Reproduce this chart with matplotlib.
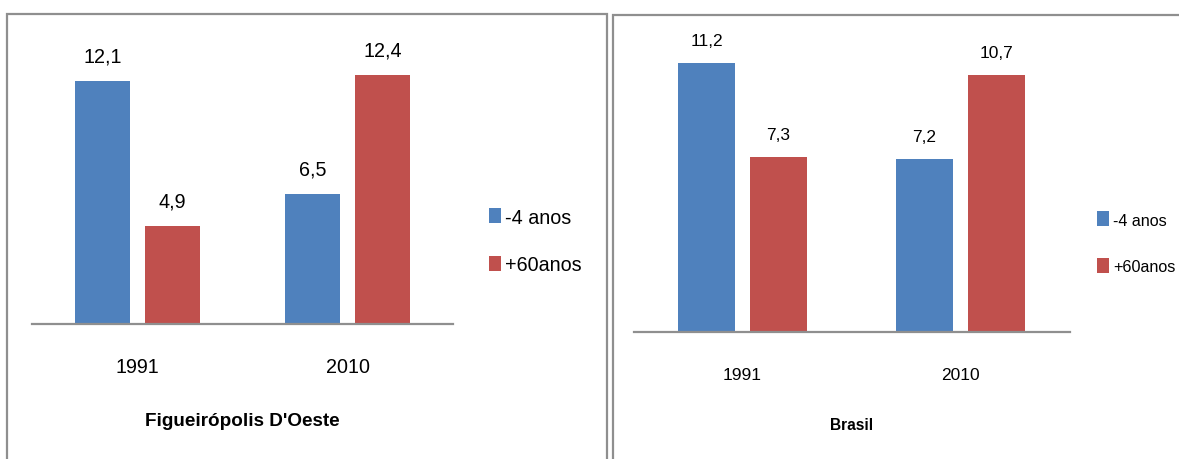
import matplotlib
matplotlib.use('Agg')
import matplotlib.pyplot as plt
from matplotlib import transforms
from matplotlib.lines import Line2D
from matplotlib.patches import Rectangle

# data
years = ['1991', '2010']
series = ['-4 anos', '+60anos']
colors = ['#4F81BD', '#C0504D']
figueiropolis_menos4 = [12.1, 6.5]
figueiropolis_mais60 = [4.9, 12.4]
brasil_menos4 = [11.2, 7.2]
brasil_mais60 = [7.3, 10.7]

W, H = 1179, 459
fig = plt.figure(figsize=(W / 100, H / 100), dpi=100)
fig.patch.set_facecolor('white')

GRAY = '#8f8f8f'
FAMILY = ['Liberation Sans', 'DejaVu Sans']


def fx(x):
    return x / W


def fy(y):
    # pixel row (from top) -> figure fraction
    return 1 - y / H


def pbox(x0, y0, x1, y1):
    return [fx(x0), fy(y1), (x1 - x0) / W, (y1 - y0) / H]


panels = [
    dict(title="Figueirópolis D'Oeste", vals=[figueiropolis_menos4, figueiropolis_mais60],
         box=(32, 43, 453, 324), ymax=14, off=0.166, width=0.261,
         fs=14.2, leg_fs=14.2, tfs=13.6, lab_off=13.2, cat_y=373, title_y=426,
         leg_x=489, leg_y=[(208, 224), (256, 271)]),
    dict(title='Brasil', vals=[brasil_menos4, brasil_mais60],
         box=(633.5, 44, 1069.5, 332), ymax=12, off=0.165, width=0.261,
         fs=12.5, leg_fs=11.6, tfs=11.2, lab_off=12.2, cat_y=380, title_y=430,
         leg_x=1097, leg_y=[(211, 226), (258, 272)]),
]

for p in panels:
    ax = fig.add_axes(pbox(*p['box']))
    ax.set_xlim(-0.5, 1.5)
    ax.set_ylim(0, p['ymax'])
    for s in ('left', 'right', 'top'):
        ax.spines[s].set_visible(False)
    ax.spines['bottom'].set_color(GRAY)
    ax.spines['bottom'].set_linewidth(1.6)
    ax.set_xticks([])
    ax.set_yticks([])
    ax.patch.set_alpha(0)

    for i, (vals, col) in enumerate(zip(p['vals'], colors)):
        xs = [k + (2 * i - 1) * p['off'] for k in range(len(years))]
        bars = ax.bar(xs, vals, width=p['width'], color=col, zorder=1)
        for b, v in zip(bars, vals):
            ax.annotate(f'{v:.1f}'.replace('.', ','),
                        (b.get_x() + b.get_width() / 2, v),
                        xytext=(0, p['lab_off']), textcoords='offset points',
                        ha='center', va='baseline', fontsize=p['fs'],
                        color='black', family=FAMILY)

    # category labels under the axis
    tr = transforms.blended_transform_factory(ax.transData, fig.transFigure)
    for k, yr in enumerate(years):
        ax.text(k, fy(p['cat_y']), yr, transform=tr, ha='center', va='baseline',
                fontsize=p['fs'], family=FAMILY)

    # panel title
    x0, _, x1, _ = p['box']
    fig.text(fx((x0 + x1) / 2), fy(p['title_y']), p['title'], ha='center',
             va='baseline', fontsize=p['tfs'], fontweight='bold', family=FAMILY)

    # legend
    for (top, base), name, col in zip(p['leg_y'], series, colors):
        fig.patches.append(Rectangle((fx(p['leg_x']), fy(top + 15)), 12 / W, 15 / H,
                                     transform=fig.transFigure, facecolor=col,
                                     edgecolor='none'))
        fig.text(fx(p['leg_x'] + 16), fy(base), name, ha='left', va='baseline',
                 fontsize=p['leg_fs'], family=FAMILY)

# panel frames
frames = [
    [(7, 470), (7, 14), (607, 14), (607, 470)],
    [(613, 470), (613, 15), (1185, 15)],
]
for pts in frames:
    xs = [fx(a) for a, _ in pts]
    ys = [fy(b) for _, b in pts]
    fig.lines.append(Line2D(xs, ys, transform=fig.transFigure, color=GRAY,
                            linewidth=1.6, solid_joinstyle='miter'))

fig.savefig('out.png', dpi=100)
